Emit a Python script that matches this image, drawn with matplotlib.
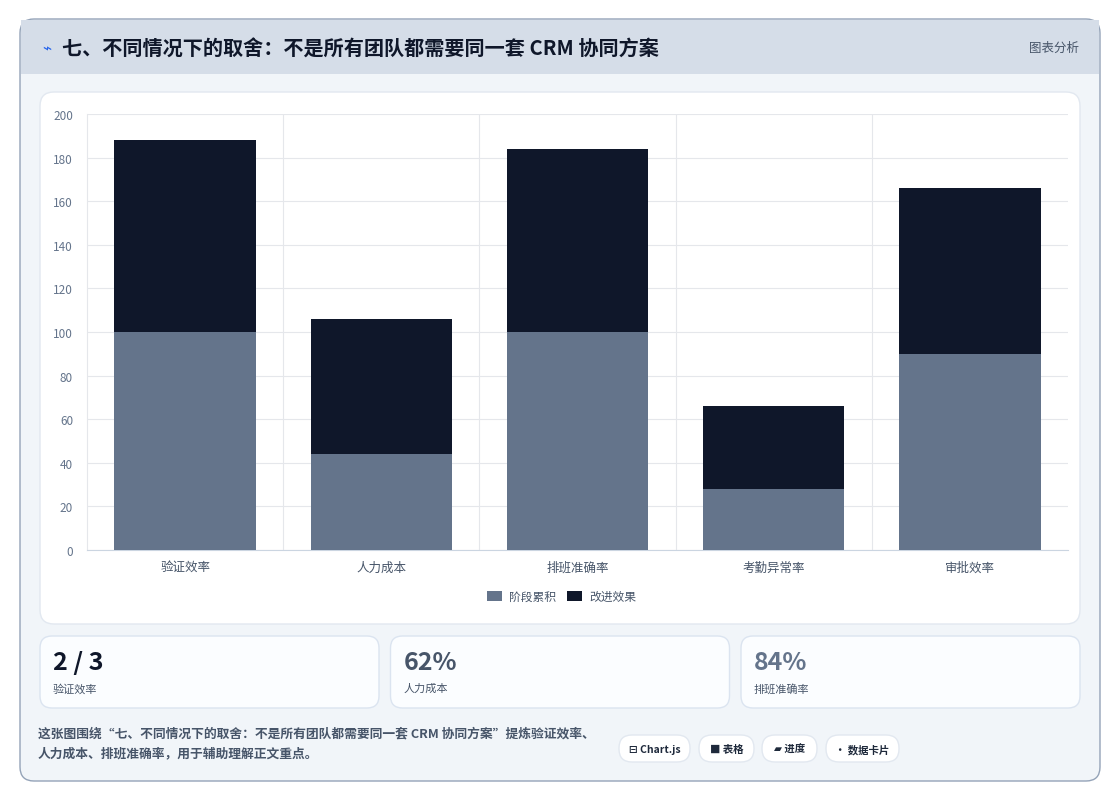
import matplotlib
matplotlib.use("Agg")
import matplotlib.pyplot as plt
from matplotlib.patches import FancyBboxPatch, Rectangle
import numpy as np

plt.rcParams['font.family'] = ['Noto Sans CJK SC', 'DejaVu Sans']

categories = ["验证效率", "人力成本", "排班准确率", "考勤异常率", "审批效率"]
stage_vals = [100, 44, 100, 28, 90]
improve_vals = [88, 62, 84, 38, 76]
series_names = ["阶段累积", "改进效果"]
yticks = [0, 20, 40, 60, 80, 100, 120, 140, 160, 180, 200]
kpi_values = ["2 / 3", "62%", "84%"]
kpi_labels = ["验证效率", "人力成本", "排班准确率"]
kpi_colors = ["#0f172a", "#475569", "#64748b"]
chips = ["⊟ Chart.js", "■ 表格", "▰ 进度", "• 数据卡片"]

W, H = 1120, 804
fig = plt.figure(figsize=(W/100, H/100), dpi=100)
fig.patch.set_facecolor("white")
bg = fig.add_axes([0, 0, 1, 1])
bg.set_xlim(0, W); bg.set_ylim(H, 0); bg.axis("off")

def rbox(x, y, w, h, fc, ec, r=12, lw=1, z=1):
    bg.add_patch(FancyBboxPatch((x, y), w, h, boxstyle=f"round,pad=0,rounding_size={r}",
                                fc=fc, ec=ec, lw=lw, zorder=z))

rbox(20, 20, 1080, 762, "#f1f5f9", "#94a3b8", r=14, lw=1)
bg.add_patch(Rectangle((21, 21), 1078, 54, fc="#d5dde8", ec="none", zorder=2))
bg.text(42, 49, "⌁", color="#2563eb", fontsize=11, va="center", zorder=3, family=["DejaVu Sans"])
bg.text(62, 49, "七、不同情况下的取舍：不是所有团队都需要同一套 CRM 协同方案", fontsize=14.5,
        fontweight="bold", color="#0f172a", va="center", zorder=3)
bg.text(1079, 48, "图表分析", fontsize=9, color="#475569", va="center", ha="right", zorder=3)
rbox(40, 93, 1040, 532, "#ffffff", "#e2e8f0", r=14, z=2)
for i, (v, l, c) in enumerate(zip(kpi_values, kpi_labels, kpi_colors)):
    x = 40 + i*350.5
    rbox(x, 637, 339, 72, "#fbfdff", "#dbe4f0", r=12, z=2)
    bg.text(x+13, 663, v, fontsize=18, fontweight="bold", color=c, va="center", zorder=3)
    bg.text(x+13, 689, l, fontsize=8, color="#475569", va="center", zorder=3)
bg.text(38, 734, "这张图围绕“七、不同情况下的取舍：不是所有团队都需要同一套 CRM 协同方案”提炼验证效率、",
        fontsize=9.2, color="#475569", va="center", zorder=3, fontweight="bold")
bg.text(38, 754, "人力成本、排班准确率，用于辅助理解正文重点。",
        fontsize=9.2, color="#475569", va="center", zorder=3, fontweight="bold")
cx = [619, 699, 762, 826]
cw = [71, 55, 55, 73]
for x, w, t in zip(cx, cw, chips):
    rbox(x, 736, w, 27, "#ffffff", "#e2e8f0", r=13, z=2)
    bg.text(x+w/2, 750, t, fontsize=7.5, color="#1e293b", ha="center", va="center", zorder=3,
            fontweight="bold")

ax = fig.add_axes([87/W, 1-551/H, 981/W, 436/H])
ax.set_facecolor("none")
x = np.arange(len(categories))
ax.bar(x, stage_vals, width=0.72, color="#64748b", label=series_names[0], zorder=3)
ax.bar(x, improve_vals, bottom=stage_vals, width=0.72, color="#0f172a", label=series_names[1], zorder=3)
ax.set_xlim(-0.5, len(categories)-0.5)
ax.set_ylim(0, 200)
ax.set_yticks(yticks)
ax.set_xticks(x)
ax.set_xticklabels(categories, fontsize=9, color="#475569")
ax.tick_params(axis="y", labelsize=8.5, labelcolor="#64748b", length=0, pad=10)
ax.tick_params(axis="x", length=0, pad=8)
ax.grid(axis="y", color="#e5e7eb", lw=0.8, zorder=0)
for b in np.arange(0.5, len(categories)-0.5, 1):
    ax.axvline(b, color="#e5e7eb", lw=0.8, zorder=0)
for s in ["top", "right"]:
    ax.spines[s].set_visible(False)
ax.spines["left"].set_color("#e5e7eb")
ax.spines["bottom"].set_color("#cbd5e1")
ax.legend(loc="upper center", bbox_to_anchor=(0.484, -0.068), ncol=2, frameon=False,
          fontsize=8.5, handlelength=1.3, handleheight=0.9, columnspacing=0.9,
          handletextpad=0.6, labelcolor="#475569")
fig.savefig("out.png", dpi=100)
